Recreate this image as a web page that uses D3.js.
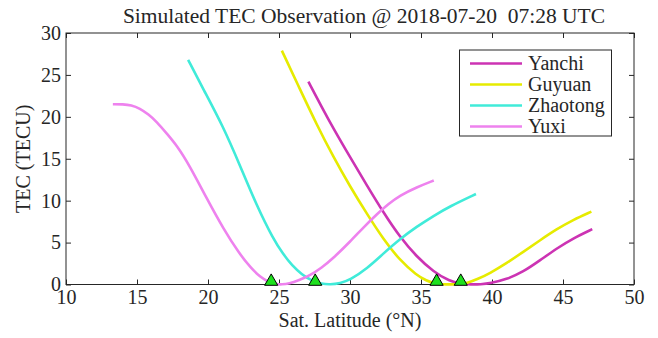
<!DOCTYPE html>
<html><head><meta charset="utf-8">
<script src="https://cdn.jsdelivr.net/npm/d3@7"></script>
<style>body{margin:0;background:#fff}</style>
</head><body><svg id="c" width="658" height="338"></svg>
<script>
const title = "Simulated TEC Observation @ 2018-07-20  07:28 UTC";
const xLabel = "Sat. Latitude (°N)";
const yLabel = "TEC (TECU)";
const xTicks = [10,15,20,25,30,35,40,45,50];
const yTicks = [0,5,10,15,20,25,30];
const seriesNames = ["Yanchi","Guyuan","Zhaotong","Yuxi"];
const seriesColors = ["#CC33B3","#E6EB00","#40EBD9","#EE82EE"];
const yanchi = [[27.07,24.2],[28.0,21.2],[28.8,18.7],[30.0,15.2],[31.2,11.8],[32.35,8.6],[33.5,5.7],[34.7,3.3],[35.9,1.5],[37.0,0.4],[37.8,0.08],[38.5,0],[39.2,0.02],[39.9,0.15],[41.0,0.6],[42.2,1.5],[43.4,2.9],[44.55,4.3],[45.7,5.5],[47.06,6.6]];
const guyuan = [[25.2,27.9],[26.5,23.2],[27.65,19.1],[28.8,15.3],[30.0,11.7],[31.2,8.4],[32.35,5.4],[33.5,2.9],[34.7,1.1],[35.4,0.45],[35.9,0.15],[36.5,0.02],[37.2,0],[37.8,0.05],[38.2,0.15],[39.0,0.65],[39.86,1.35],[41.0,2.5],[42.2,3.9],[43.4,5.3],[44.55,6.6],[45.7,7.7],[47.0,8.7]];
const zhaotong = [[18.6,26.8],[19.67,23.3],[21.08,18.8],[22.25,14.2],[23.43,9.4],[24.6,5.4],[25.3,3.6],[25.9,2.3],[26.6,1.2],[27.3,0.45],[28.0,0.08],[28.6,0],[29.3,0.15],[30.0,0.55],[31.2,1.9],[32.35,3.7],[33.5,5.4],[34.7,6.9],[35.9,8.2],[37.0,9.3],[38.87,10.8]];
const yuxi = [[13.3,21.5],[14.0,21.5],[14.6,21.4],[15.2,21.0],[15.8,20.3],[16.4,19.4],[17.1,18.0],[17.8,16.6],[18.7,14.2],[19.9,10.3],[21.1,6.6],[22.2,3.7],[23.0,2.0],[23.7,0.85],[24.3,0.25],[24.8,0.03],[25.2,0],[25.7,0.1],[26.4,0.5],[27.2,1.1],[28.0,2.0],[28.8,3.1],[30.0,5.1],[31.0,6.9],[31.9,8.4],[32.7,9.6],[33.5,10.6],[34.7,11.6],[35.9,12.4]];
const stationLat = [24.45,27.55,36.1,37.8];

const allSeries = [yanchi,guyuan,zhaotong,yuxi];
const svg = d3.select("#c");
const L=66,R=634,T=33,B=284.5;
const x = d3.scaleLinear().domain([10,50]).range([L,R]);
const y = d3.scaleLinear().domain([0,30]).range([B,T]);
const axc="#262626";
const ff="'Liberation Serif', 'Times New Roman', serif";
function styleText(sel, size){
  sel.style("font-family",ff).style("font-size",size+"px").style("white-space","pre").attr("fill",axc);
}

const gx = svg.append("g").attr("transform",`translate(0,${B})`)
  .call(d3.axisBottom(x).tickValues(xTicks).tickSize(-5).tickPadding(5).tickFormat(d3.format("d")));
const gxt = svg.append("g").attr("transform",`translate(0,${T})`)
  .call(d3.axisTop(x).tickValues(xTicks).tickSize(-5).tickFormat(""));
const gy = svg.append("g").attr("transform",`translate(${L},0)`)
  .call(d3.axisLeft(y).tickValues(yTicks).tickSize(-5).tickPadding(5).tickFormat(d3.format("d")));
const gyr = svg.append("g").attr("transform",`translate(${R},0)`)
  .call(d3.axisRight(y).tickValues(yTicks).tickSize(-5).tickFormat(""));
[gx,gxt,gy,gyr].forEach(g=>{
  g.attr("font-family",null).attr("font-size",null);
  g.select(".domain").remove();
  g.selectAll(".tick line").attr("stroke",axc);
  styleText(g.selectAll("text"),20);
});
svg.append("rect").attr("x",L).attr("y",T).attr("width",R-L).attr("height",B-T)
  .attr("fill","none").attr("stroke",axc).attr("stroke-width",1);

const line = d3.line().x(d=>x(d[0])).y(d=>y(d[1])).curve(d3.curveBasis);
const lg = svg.append("g");
allSeries.forEach((s,i)=>{
  lg.append("path").attr("d",line(s)).attr("fill","none")
    .attr("stroke",seriesColors[i]).attr("stroke-width",2.6);
});

const tri = d3.symbol().type(d3.symbolTriangle).size(75);
svg.selectAll(".st").data(stationLat).join("path")
  .attr("transform",d=>`translate(${x(d)},${y(0)-3})`)
  .attr("d",tri).attr("fill","#1EE01E").attr("stroke","#000").attr("stroke-width",1);

const lgX=459.5, lgY=50, lgW=152, lgH=86;
svg.append("rect").attr("x",lgX).attr("y",lgY).attr("width",lgW).attr("height",lgH)
  .attr("fill","#fff").attr("stroke",axc).attr("stroke-width",1);
seriesNames.forEach((n,i)=>{
  const yy = lgY+13.5+i*21;
  svg.append("line").attr("x1",470).attr("x2",522).attr("y1",yy).attr("y2",yy)
    .attr("stroke",seriesColors[i]).attr("stroke-width",2.6);
  styleText(svg.append("text").attr("x",528).attr("y",yy+6.5).text(n),20);
});

styleText(svg.append("text").attr("x",364).attr("y",23).attr("text-anchor","middle").text(title),21.5);
styleText(svg.append("text").attr("x",(L+R)/2).attr("y",327).attr("text-anchor","middle").text(xLabel),20);
styleText(svg.append("text").attr("transform",`translate(30,${(T+B)/2}) rotate(-90)`).attr("text-anchor","middle").text(yLabel),20);
</script></body></html>
